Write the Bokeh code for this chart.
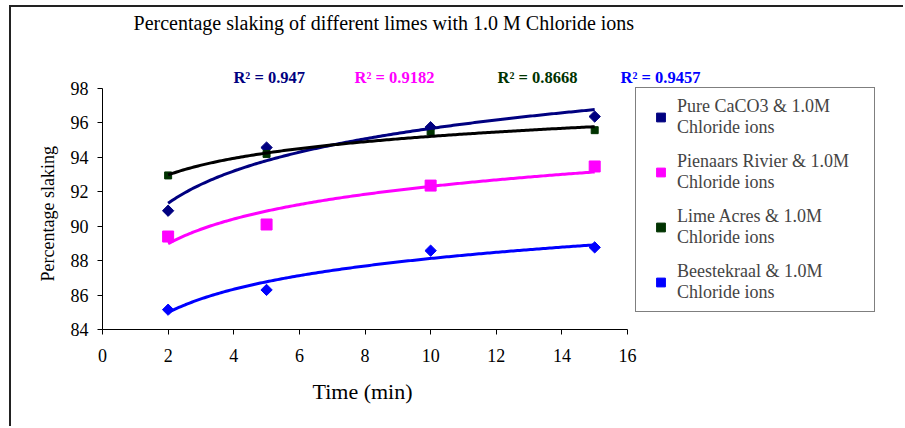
import numpy as np
from bokeh.plotting import figure
from bokeh.models import Label, Legend, LegendItem, Range1d, FixedTicker, Title
from bokeh.embed import file_html
from bokeh.resources import INLINE

# ---- data ----
time_min = [2, 5, 10, 15]
pure_caco3 = [90.9, 94.57, 95.75, 96.37]
pienaars = [89.4, 90.1, 92.36, 93.47]
lime_acres = [92.95, 94.2, 95.5, 95.58]
beestekraal = [85.15, 86.3, 88.58, 88.77]

series_names = [
    "Pure CaCO3 & 1.0M\nChloride ions",
    "Pienaars Rivier & 1.0M\nChloride ions",
    "Lime Acres & 1.0M\nChloride ions",
    "Beestekraal & 1.0M\nChloride ions",
]
r2_texts = ["R\u00b2 = 0.947", "R\u00b2 = 0.9182", "R\u00b2 = 0.8668", "R\u00b2 = 0.9457"]
x_ticks = [0, 2, 4, 6, 8, 10, 12, 14, 16]
y_ticks = [84, 86, 88, 90, 92, 94, 96, 98]
title_text = "Percentage slaking of different limes with 1.0 M Chloride ions"
x_title = "Time (min)"
y_title = "Percentage slaking"

FONT = "Liberation Serif"
W, H = 894, 421
LEFT, RIGHT, TOP, BOTTOM = 91, 5, 0, 99
PX_PER_X = 525 / 16.0     # axis 0..16 spans 525 px
PX_PER_Y = 241 / 14.0     # axis 84..98 spans 241 px
frame_w = W - LEFT - RIGHT
frame_h = H - TOP - BOTTOM

# frame extends above and right of the axes so that title, R^2 texts and legend fit in it
p = figure(width=W, height=H, output_backend="svg", toolbar_location=None,
           min_border_left=LEFT, min_border_right=RIGHT, min_border_top=TOP, min_border_bottom=BOTTOM,
           x_range=Range1d(0, frame_w / PX_PER_X),
           y_range=Range1d(84, 84 + frame_h / PX_PER_Y))
p.styles = {"margin-left": "9px", "margin-top": "5px",
            "border-left": "2px solid #222222", "border-top": "2px solid #222222"}
p.outline_line_color = None
p.xgrid.visible = False
p.ygrid.visible = False
p.background_fill_color = "white"
p.border_fill_color = "white"

for ax in (p.xaxis[0], p.yaxis[0]):
    ax.axis_line_color = "black"
    ax.axis_line_width = 1
    ax.major_tick_line_color = "black"
    ax.major_tick_in = 0
    ax.major_tick_out = 5
    ax.minor_tick_line_color = None
    ax.major_label_text_font = FONT
    ax.major_label_text_font_size = "18px"
    ax.major_label_text_color = "black"

p.xaxis.bounds = (0, 16)
p.yaxis.bounds = (84, 98)
p.xaxis.ticker = FixedTicker(ticks=x_ticks)
p.yaxis.ticker = FixedTicker(ticks=y_ticks)
p.xaxis.major_label_standoff = 14
p.yaxis.major_label_standoff = 9

# axis titles placed along the bounded axes
p.add_layout(Title(text=x_title, align="left", offset=210, standoff=24,
                   text_font=FONT, text_font_size="22px", text_font_style="normal",
                   text_color="black"), "below")
p.add_layout(Title(text=y_title, align="left", offset=48, standoff=20,
                   text_font=FONT, text_font_size="18px", text_font_style="normal",
                   text_color="black"), "left")

marker_colors = ["#000080", "#FF00FF", "#003300", "#0000FF"]
line_colors = ["#000080", "#FF00FF", "#000000", "#0000FF"]
angles = [np.pi / 4, 0, 0, np.pi / 4]
sizes = [8, 11, 7, 8]
all_series = [pure_caco3, pienaars, lime_acres, beestekraal]

x = np.array(time_min, dtype=float)
xs_fit = np.linspace(x.min(), x.max(), 200)
scatter_renderers = []
for i, ys in enumerate(all_series):
    r = p.scatter(time_min, ys, marker="square", angle=angles[i], size=sizes[i],
                  fill_color=marker_colors[i], line_color=marker_colors[i])
    scatter_renderers.append(r)
for i, ys in enumerate(all_series):
    a, b = np.polyfit(np.log(x), np.array(ys), 1)
    p.line(xs_fit, a * np.log(xs_fit) + b, line_color=line_colors[i], line_width=3)

items = [LegendItem(label=series_names[i], renderers=[scatter_renderers[i]]) for i in range(4)]
legend = Legend(items=items, location=(533, 17))
legend.label_text_font = FONT
legend.label_text_font_size = "18px"
legend.border_line_color = "black"
legend.border_line_width = 1
legend.background_fill_color = "white"
legend.padding = 8
legend.spacing = 13
legend.glyph_width = 33
legend.glyph_height = 22
legend.label_standoff = 0
legend.label_width = 189
legend.margin = 0
p.add_layout(legend, "center")

# R^2 annotations
r2_x = [3.99, 7.68, 12.04, 15.79]
r2_colors = ["#000080", "#FF00FF", "#003300", "#0000FF"]
for i in range(4):
    p.add_layout(Label(x=r2_x[i], y=98.62, text=r2_texts[i], text_font=FONT,
                       text_font_size="16.5px", text_font_style="bold",
                       text_color=r2_colors[i], text_baseline="alphabetic"))

# chart title
p.add_layout(Label(x=0.945, y=101.8, text=title_text, text_font=FONT,
                   text_font_size="20px", text_color="black", text_baseline="alphabetic"))

open("out.html", "w").write(file_html(p, INLINE))
